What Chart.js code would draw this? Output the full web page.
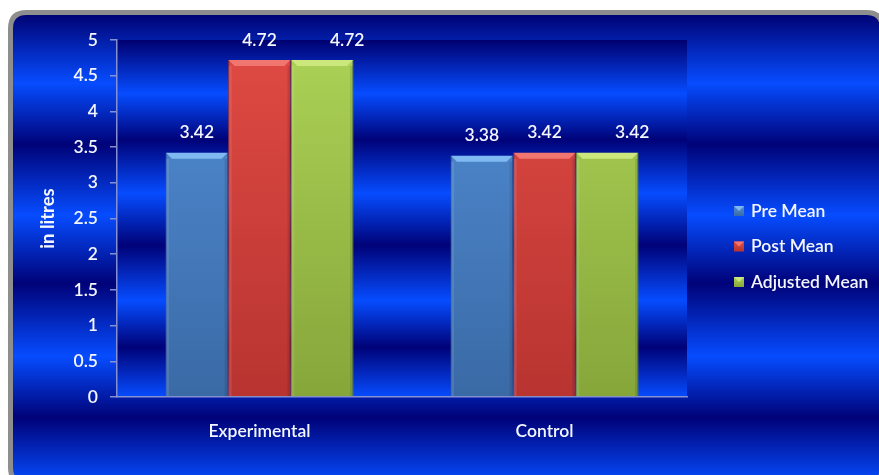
<!DOCTYPE html>
<html>
<head>
<meta charset="utf-8">
<script src="https://cdn.jsdelivr.net/npm/chart.js@4/dist/chart.umd.min.js"></script>
<style>
  html, body { margin: 0; padding: 0; background: #ffffff; }
  canvas { display: block; }
</style>
</head>
<body>
<canvas id="chart" width="879" height="475"></canvas>
<script>
// ---- data ----
const categories = ['Experimental', 'Control'];
const seriesNames = ['Pre Mean', 'Post Mean', 'Adjusted Mean'];
const preMean = [3.42, 3.38];
const postMean = [4.72, 3.42];
const adjustedMean = [4.72, 3.42];
const yTickValues = [0, 0.5, 1, 1.5, 2, 2.5, 3, 3.5, 4, 4.5, 5];
const yAxisTitle = 'in litres';

// ---- look ----
const FONT = 'Lato, "Open Sans", sans-serif';
const WEIGHT = '600';
const TEXT = '#f4f6ff';
const AXIS = 'rgba(140,150,210,0.95)';
const palettes = [
  { top: 'rgb(82,142,214)', bottom: 'rgb(58,106,166)', bevel: 'rgb(128,184,242)', edge: 'rgb(50,92,150)', shift: 0 },
  { top: 'rgb(224,74,68)', bottom: 'rgb(184,52,48)', bevel: 'rgb(242,118,112)', edge: 'rgb(160,44,40)', shift: 0 },
  { top: 'rgb(172,210,86)', bottom: 'rgb(134,166,58)', bevel: 'rgb(204,232,124)', edge: 'rgb(116,146,48)', shift: 25 }
];
// banded blue fill used for the frame and the plot area
const bandStops = [
  [0.00, 'rgb(0,0,112)'], [0.15, 'rgb(6,76,255)'], [0.28, 'rgb(0,2,120)'],
  [0.43, 'rgb(6,76,255)'], [0.575, 'rgb(0,2,120)'], [0.73, 'rgb(6,76,255)'],
  [0.86, 'rgb(0,2,120)'], [1.00, 'rgb(6,76,255)']
];

function bandGradient(ctx, top, bottom) {
  const g = ctx.createLinearGradient(0, top, 0, bottom);
  bandStops.forEach(([t, c]) => g.addColorStop(t, c));
  return g;
}

function roundRectPath(ctx, x, y, w, h, r) {
  ctx.beginPath();
  ctx.moveTo(x + r, y);
  ctx.lineTo(x + w - r, y);
  ctx.quadraticCurveTo(x + w, y, x + w, y + r);
  ctx.lineTo(x + w, y + h - r);
  ctx.quadraticCurveTo(x + w, y + h, x + w - r, y + h);
  ctx.lineTo(x + r, y + h);
  ctx.quadraticCurveTo(x, y + h, x, y + h - r);
  ctx.lineTo(x, y + r);
  ctx.quadraticCurveTo(x, y, x + r, y);
  ctx.closePath();
}

// frame and banded backgrounds
const backdrop = {
  id: 'backdrop',
  beforeDraw(chart) {
    const { ctx, chartArea: a } = chart;
    ctx.save();
    ctx.fillStyle = '#ffffff';
    ctx.fillRect(0, 0, chart.width, chart.height);
    const fx = 10.5, fy = 12.5, fw = 872, fh = 471;
    roundRectPath(ctx, fx, fy, fw, fh, 16);
    ctx.fillStyle = bandGradient(ctx, fy, fy + fh);
    ctx.fill();
    ctx.lineWidth = 5;
    ctx.strokeStyle = '#8e8e8e';
    ctx.stroke();
    ctx.fillStyle = bandGradient(ctx, a.top, a.bottom);
    ctx.fillRect(a.left, a.top, a.right - a.left, a.bottom - a.top);
    ctx.restore();
  }
};

// bevelled tops and value labels on the bars
const barDecor = {
  id: 'barDecor',
  afterDatasetsDraw(chart) {
    const { ctx } = chart;
    ctx.save();
    chart.data.datasets.forEach((ds, di) => {
      const meta = chart.getDatasetMeta(di);
      const pal = palettes[di];
      meta.data.forEach((bar, i) => {
        const { x, y, base, width } = bar.getProps(['x', 'y', 'base', 'width'], true);
        const l = x - width / 2 + 0.5, r = x + width / 2 - 0.5, b = 6;
        // top bevel
        ctx.beginPath();
        ctx.moveTo(l, y);
        ctx.lineTo(r, y);
        ctx.lineTo(r - b, y + b);
        ctx.lineTo(l + b, y + b);
        ctx.closePath();
        ctx.fillStyle = pal.bevel;
        ctx.fill();
        // side highlights
        ctx.fillStyle = 'rgba(255,255,255,0.10)';
        ctx.fillRect(l, y + b, 3, base - y - b);
        ctx.fillStyle = 'rgba(0,0,0,0.10)';
        ctx.fillRect(r - 3, y + b, 3, base - y - b);
        // value
        ctx.fillStyle = TEXT;
        ctx.font = WEIGHT + ' 17.5px ' + FONT;
        ctx.textAlign = 'center';
        ctx.textBaseline = 'middle';
        ctx.fillText(ds.data[i].toFixed(2), x + pal.shift, y - 20);
      });
    });
    ctx.restore();
  }
};

// legend on the right
const sideLegend = {
  id: 'sideLegend',
  afterDraw(chart) {
    const { ctx } = chart;
    const x0 = 734, yc = 211, step = 35.5, s = 10;
    ctx.save();
    chart.data.datasets.forEach((ds, di) => {
      const pal = palettes[di];
      const cy = yc + di * step;
      const top = cy - s / 2;
      const g = ctx.createLinearGradient(0, top, 0, top + s);
      g.addColorStop(0, pal.top);
      g.addColorStop(1, pal.bottom);
      ctx.fillStyle = g;
      ctx.fillRect(x0, top, s, s);
      ctx.beginPath();
      ctx.moveTo(x0, top);
      ctx.lineTo(x0 + s, top);
      ctx.lineTo(x0 + s / 2, top + s / 2);
      ctx.closePath();
      ctx.fillStyle = pal.bevel;
      ctx.fill();
      ctx.fillStyle = TEXT;
      ctx.font = WEIGHT + ' 17.5px ' + FONT;
      ctx.textAlign = 'left';
      ctx.textBaseline = 'middle';
      ctx.fillText(ds.label, x0 + s + 7, cy);
    });
    ctx.restore();
  }
};

function barFill(pal) {
  return (c) => {
    const a = c.chart.chartArea;
    if (!a) return pal.top;
    const g = c.chart.ctx.createLinearGradient(0, a.top, 0, a.bottom);
    g.addColorStop(0, pal.top);
    g.addColorStop(1, pal.bottom);
    return g;
  };
}

const seriesValues = [preMean, postMean, adjustedMean];

new Chart(document.getElementById('chart'), {
  type: 'bar',
  data: {
    labels: categories,
    datasets: seriesNames.map((name, i) => ({
      label: name,
      data: seriesValues[i],
      backgroundColor: barFill(palettes[i]),
      borderColor: palettes[i].edge,
      borderWidth: 1,
      categoryPercentage: 0.66,
      barPercentage: 1.0
    }))
  },
  options: {
    responsive: false,
    animation: false,
    events: [],
    layout: { padding: { top: 40, right: 192, bottom: 0, left: 0 } },
    plugins: { legend: { display: false }, tooltip: { enabled: false } },
    scales: {
      x: {
        grid: { display: false, drawTicks: false },
        border: { display: true, color: AXIS, width: 1.5 },
        ticks: { color: TEXT, font: { family: FONT, size: 17.5, weight: WEIGHT }, padding: 24 },
        afterFit(scale) { scale.height = 78; }
      },
      y: {
        min: 0,
        max: 5,
        afterBuildTicks(scale) { scale.ticks = yTickValues.map(v => ({ value: v })); },
        grid: { display: true, drawOnChartArea: false, drawTicks: true, tickLength: 7, color: AXIS, lineWidth: 1.5 },
        border: { display: true, color: AXIS, width: 1.5 },
        ticks: {
          color: TEXT,
          font: { family: FONT, size: 17.5, weight: WEIGHT },
          padding: 12,
          callback: (v) => String(v)
        },
        title: {
          display: true,
          text: yAxisTitle,
          color: TEXT,
          font: { family: FONT, size: 18.5, weight: 'bold' },
          padding: { top: 37, bottom: 0 }
        },
        afterFit(scale) { scale.width = 117; }
      }
    }
  },
  plugins: [backdrop, barDecor, sideLegend]
});
</script>
</body>
</html>
